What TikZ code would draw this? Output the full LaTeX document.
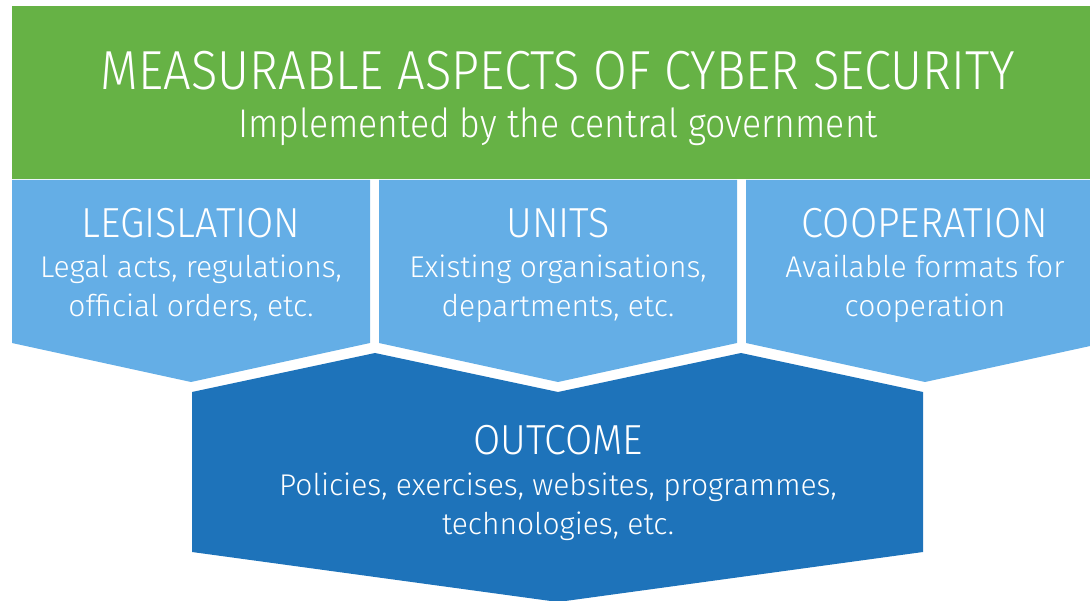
\documentclass[tikz,border=0pt]{standalone}
\usepackage{fontspec}
\setmainfont{Fira Sans Light}
\newfontfamily\titlefont{Fira Sans Light}[FakeStretch=0.89]
\newfontfamily\headfont{Fira Sans Light}[FakeStretch=0.94]
\definecolor{govgreen}{HTML}{66B245}
\definecolor{aspectblue}{HTML}{64AEE6}
\definecolor{outcomeblue}{HTML}{1E73BA}
\tikzset{
	aspects/.cd,
	head/.style = {
		text = white,
		anchor = base,
		inner sep = 0pt,
		font = \headfont\fontsize{42}{42}\selectfont
	},
	body/.style = {
		text = white,
		anchor = base,
		inner sep = 0pt,
		align = center,
		font = \fontsize{30}{39}\selectfont
	},
}

\begin{document}
\begin{tikzpicture}[x = 1pt, y = -1pt]
	\useasboundingbox (0, 0) rectangle (1090, 601);
	\begin{scope}
		\clip (0, 0) rectangle (1090, 601);
		% top bar
		\fill[govgreen] (12, 6) rectangle (1104, 179);
		% three aspects
		\foreach \i in {0, 1, 2}{
			\pgfmathsetmacro{\xl}{12 + 367 * \i}
			\fill[aspectblue] (\xl, 180) -- ++(358, 0) -- ++(0, 163) -- ++(-179, 39) -- ++(-179, -39) -- cycle;
		}
		% outcome
		\fill[outcomeblue] (192, 392) -- (375, 353) -- (558, 392) -- (741, 353) -- (923, 392)
			-- (923, 552) -- (558, 602) -- (192, 552) -- cycle;
	\end{scope}
	\node[aspects/head, font = \titlefont\fontsize{55}{55}\selectfont] (title) at (558, 90) {MEASURABLE ASPECTS OF CYBER SECURITY};
	\node[aspects/head, font = \titlefont\fontsize{40}{40}\selectfont] (subtitle) at (558, 138) {Implemented by the central government};
	\node[aspects/head] (legislation) at (191, 238) {LEGISLATION};
	\node[aspects/body] (legislation-text) at (191, 317) {Legal acts, regulations,\\official orders, etc.};
	\node[aspects/head] (units) at (558, 238) {UNITS};
	\node[aspects/body] (units-text) at (558, 317) {Existing organisations,\\departments, etc.};
	\node[aspects/head] (cooperation) at (925, 238) {COOPERATION};
	\node[aspects/body] (cooperation-text) at (925, 317) {Available formats for\\cooperation};
	\node[aspects/head] (outcome) at (558, 455) {OUTCOME};
	\node[aspects/body] (outcome-text) at (558, 534) {Policies, exercises, websites, programmes,\\technologies, etc.};
\end{tikzpicture}
\end{document}
